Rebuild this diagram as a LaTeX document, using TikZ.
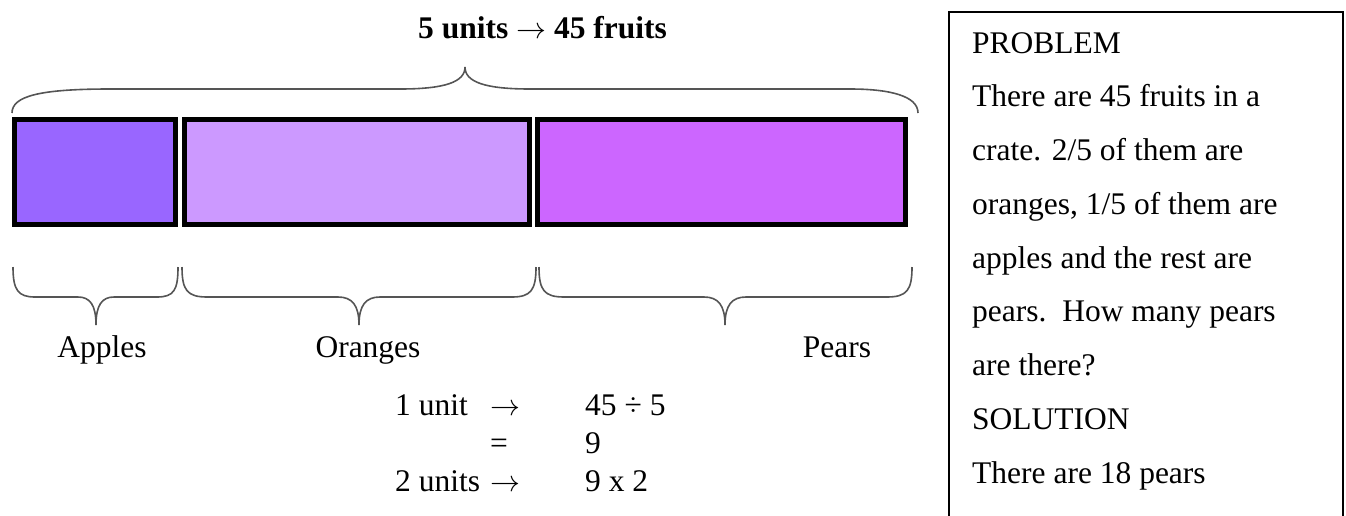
\documentclass[tikz,border=0pt]{standalone}
\usepackage{fontspec}
\setmainfont{Liberation Serif}
\definecolor{applec}{HTML}{9966FF}
\definecolor{orangec}{HTML}{CC99FF}
\definecolor{pearc}{HTML}{CC66FF}
\definecolor{bracec}{HTML}{555555}
\newcommand{\myarrow}{\resizebox{0.95em}{!}{$\rightarrow$}}
\begin{document}
\begin{tikzpicture}[x=1pt,y=-1pt,
  txt/.style={anchor=base west, inner sep=0pt, font=\fontsize{31.5}{36}\selectfont},
  ctxt/.style={anchor=base, inner sep=0pt, font=\fontsize{31.5}{36}\selectfont},
  bar/.style={draw=black, line width=5pt, minimum height=105pt, inner sep=0pt},
  brace/.style={draw=bracec, line width=1.6pt}]
\useasboundingbox (0,0) rectangle (1346,515);
% title
\node[txt, font=\fontsize{31.5}{36}\selectfont\bfseries] (title) at (418,38) {5 units \myarrow\ 45 fruits};
% bars
\node[bar, fill=applec, minimum width=161pt] (apples) at (95,172) {};
\node[bar, fill=orangec, minimum width=345pt] (oranges) at (357,172) {};
\node[bar, fill=pearc, minimum width=368pt] (pears) at (721.5,172) {};
% top brace
\draw[brace] (12,113) .. controls (12,96) and (40,89) .. (110,89) -- (400,89)
  .. controls (445,89) and (465,82) .. (465,67)
  .. controls (465,82) and (485,89) .. (530,89) -- (850,89)
  .. controls (890,89) and (918,96) .. (918,113);
% bottom braces
\draw[brace] (13,267) .. controls (13,290) and (18,297) .. (35,297) -- (78,297)
  .. controls (90,297) and (96,305) .. (96,325)
  .. controls (96,305) and (102,297) .. (114,297) -- (157,297)
  .. controls (174,297) and (178,290) .. (178,267);
\draw[brace] (182,267) .. controls (182,290) and (187,297) .. (207,297) -- (338,297)
  .. controls (352,297) and (359,305) .. (359,325)
  .. controls (359,305) and (366,297) .. (380,297) -- (512,297)
  .. controls (531,297) and (536,290) .. (536,267);
\draw[brace] (539,267) .. controls (539,290) and (544,297) .. (564,297) -- (704,297)
  .. controls (718,297) and (725,305) .. (725,325)
  .. controls (725,305) and (732,297) .. (746,297) -- (887,297)
  .. controls (907,297) and (912,290) .. (912,267);
% labels
\node[ctxt] (lapples) at (102,357) {Apples};
\node[ctxt] (loranges) at (368,357) {Oranges};
\node[ctxt] (lpears) at (837,357) {Pears};
% working
\node[txt] (r1a) at (395,415) {1 unit};
\node[txt] (r1b) at (490,415) {\myarrow};
\node[txt] (r1c) at (585,415) {45 ÷ 5};
\node[txt] (r2b) at (490,453) {=};
\node[txt] (r2c) at (585,453) {9};
\node[txt] (r3a) at (395,491) {2 units};
\node[txt] (r3b) at (490,491) {\myarrow};
\node[txt] (r3c) at (585,491) {9 x 2};
% problem box
\draw[line width=2pt] (949,520) -- (949,12) -- (1343,12) -- (1343,520);
\node[txt] (p1) at (972,53) {PROBLEM};
\node[txt] (p2) at (972,106.75) {There are 45 fruits in a};
\node[txt] (p3) at (972,160.5) {crate. 2/5 of them are};
\node[txt] (p4) at (972,214.25) {oranges, 1/5 of them are};
\node[txt] (p5) at (972,268) {apples and the rest are};
\node[txt] (p6) at (972,321.75) {pears.\ \ How many pears};
\node[txt] (p7) at (972,375.5) {are there?};
\node[txt] (p8) at (972,429.25) {SOLUTION};
\node[txt] (p9) at (972,483) {There are 18 pears};
\end{tikzpicture}
\end{document}
